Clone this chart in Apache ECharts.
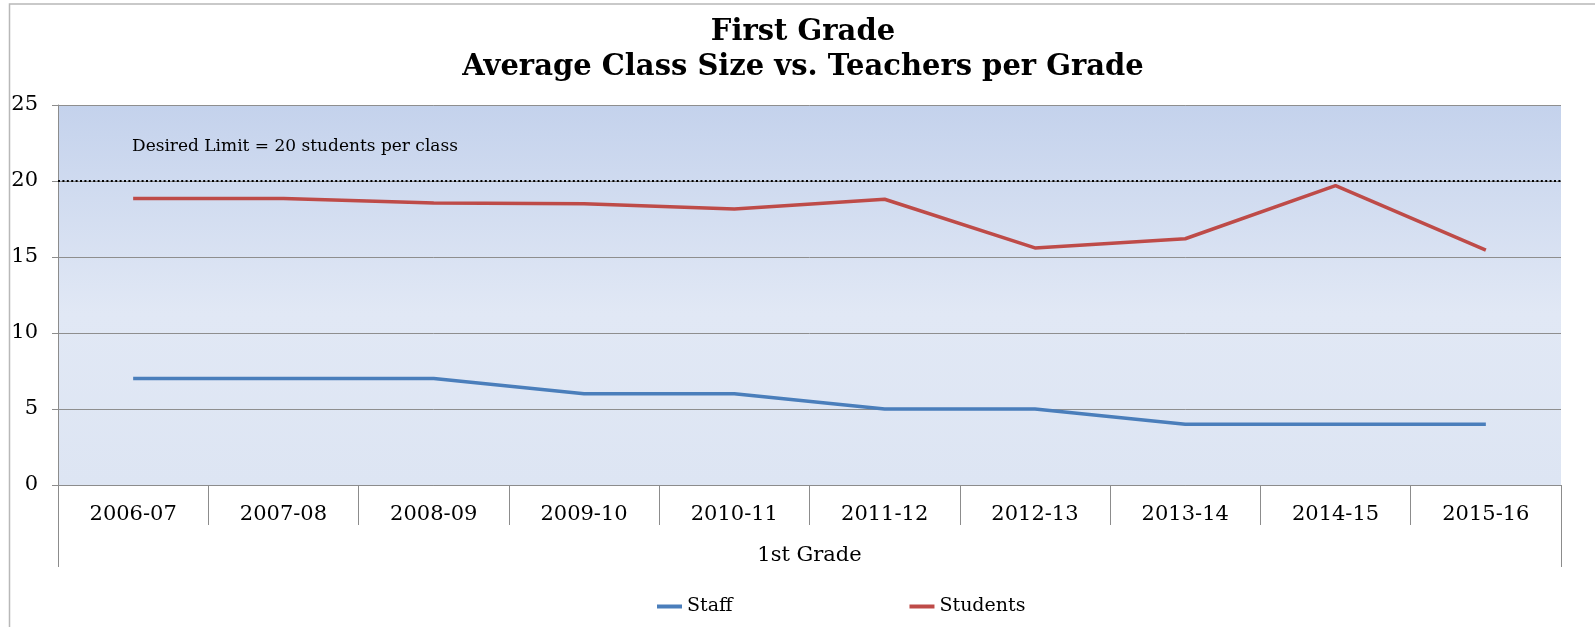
<!DOCTYPE html>
<html>
<head>
<meta charset="utf-8">
<script src="https://cdn.jsdelivr.net/npm/echarts@6/dist/echarts.min.js"></script>
<style>
  html, body { margin: 0; padding: 0; background: #fff; }
  #main { width: 1595px; height: 627px; }
</style>
</head>
<body>
<div id="main"></div>
<script>
// 数据
var categories = ['2006-07', '2007-08', '2008-09', '2009-10', '2010-11',
                  '2011-12', '2012-13', '2013-14', '2014-15', '2015-16'];
var staffData = [7, 7, 7, 6, 6, 5, 5, 4, 4, 4];
var studentData = [18.85, 18.85, 18.55, 18.5, 18.15, 18.8, 15.6, 16.2, 19.7, 15.45];
var yTicks = [0, 5, 10, 15, 20, 25];
var limitValue = 20;
var limitText = 'Desired Limit = 20 students per class';
var groupName = ['1st Grade'];
var titleText = 'First Grade\nAverage Class Size vs. Teachers per Grade';

var FONT = 'DejaVu Serif';
var myChart = echarts.init(document.getElementById('main'));

var option = {
    backgroundColor: '#fff',
    animation: false,
    title: {
        text: titleText,
        left: 803,
        top: 15,
        padding: 0,
        textAlign: 'center',
        textStyle: {
            fontFamily: FONT,
            fontWeight: 'bold',
            fontSize: 29,
            lineHeight: 35,
            color: '#000'
        }
    },
    legend: {
        data: ['Staff', 'Students'],
        left: 652,
        top: 592,
        itemGap: 177,
        itemWidth: 25,
        itemHeight: 4,
        icon: 'rect',
        textStyle: { fontFamily: FONT, fontSize: 19, color: '#000' }
    },
    grid: {
        left: 58,
        right: 34,
        top: 105,
        bottom: 142,
        show: true,
        borderWidth: 0,
        backgroundColor: new echarts.graphic.LinearGradient(0, 0, 0, 1, [
            { offset: 0, color: '#c4d2ec' },
            { offset: 0.55, color: '#e1e8f5' },
            { offset: 1, color: '#dde5f3' }
        ])
    },
    xAxis: [
        {
            type: 'category',
            data: categories,
            position: 'bottom',
            offset: 0,
            boundaryGap: true,
            axisLine: { show: true, lineStyle: { color: '#8c8c8c', width: 1 } },
            axisTick: { show: true, interval: 0, length: 40, lineStyle: { color: '#8c8c8c' } },
            axisLabel: { interval: 0, margin: 19, fontFamily: FONT, fontSize: 21, color: '#000' }
        },
        {
            type: 'category',
            data: groupName,
            position: 'bottom',
            offset: 0,
            boundaryGap: true,
            axisLine: { show: false },
            axisTick: { show: true, length: 82, lineStyle: { color: '#8c8c8c' } },
            axisLabel: { margin: 60, fontFamily: FONT, fontSize: 21, color: '#000' }
        }
    ],
    yAxis: {
        type: 'value',
        min: yTicks[0],
        max: yTicks[yTicks.length - 1],
        interval: 5,
        axisLine: { show: true, lineStyle: { color: '#8c8c8c', width: 1 } },
        axisTick: { show: true, length: 6, lineStyle: { color: '#8c8c8c' } },
        axisLabel: { margin: 20, fontFamily: FONT, fontSize: 21, color: '#000' },
        splitLine: { show: true, lineStyle: { color: '#8e8e8e', width: 1 } }
    },
    series: [
        {
            name: 'Staff',
            type: 'line',
            data: staffData,
            symbol: 'none',
            color: '#4a7ebb',
            lineStyle: { width: 3.5, color: '#4a7ebb' }
        },
        {
            name: 'Students',
            type: 'line',
            data: studentData,
            symbol: 'none',
            color: '#be4b48',
            lineStyle: { width: 3.5, color: '#be4b48' },
            markLine: {
                silent: true,
                symbol: 'none',
                label: { show: false },
                lineStyle: { color: '#000', width: 2, type: [2, 2.4] },
                data: [{ yAxis: limitValue }]
            }
        }
    ],
    graphic: [
        {
            type: 'rect',
            silent: true,
            shape: { x: 9.5, y: 4, width: 2000, height: 2000 },
            style: { fill: 'none', stroke: '#b8b8b8', lineWidth: 1.5 }
        },
        {
            type: 'text',
            left: 132,
            top: 138,
            silent: true,
            style: { text: limitText, font: '17px "DejaVu Serif"', fill: '#000' }
        }
    ]
};

myChart.setOption(option);
</script>
</body>
</html>
